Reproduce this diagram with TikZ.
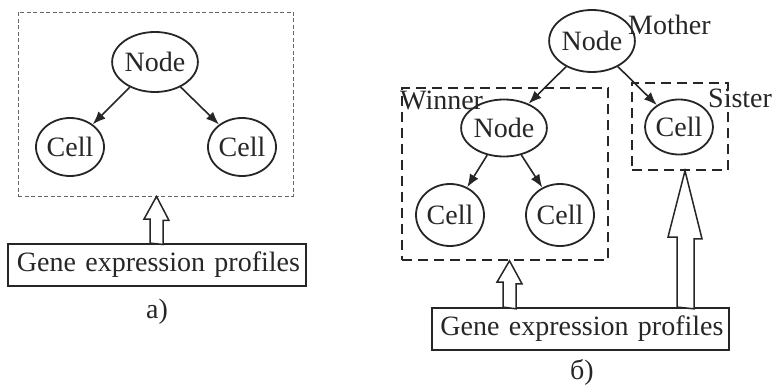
\documentclass[tikz,border=0pt]{standalone}
\usepackage{fontspec}
\setmainfont{Liberation Serif}
\usetikzlibrary{shapes.geometric,arrows.meta,calc}

\begin{document}
\begin{tikzpicture}[x=1pt,y=-1pt,
  every node/.style={font=\fontsize{28}{32}\selectfont,text=black!85},
  cell/.style={ellipse,draw=black!85,line width=1.8pt,inner sep=0pt,minimum width=68pt,minimum height=58pt},
  tag/.style={anchor=base west,inner sep=0pt},
  genebox/.style={draw=black!85,line width=1.8pt,minimum width=298pt,minimum height=42pt,inner sep=0pt,
    text width=286pt,align=right},
  frame/.style={draw=black!60,line width=0.9pt,dash pattern=on 4pt off 2.5pt},
  zone/.style={draw=black!85,line width=1.6pt,dash pattern=on 10pt off 6pt},
  link/.style={-{Latex[length=13pt,width=10pt]},line width=1.6pt,draw=black!85},
  hollow/.style={draw=black!85,line width=1.5pt,fill=white}]
\useasboundingbox (0,0) rectangle (774,385);

% a)
\node[frame,minimum width=275pt,minimum height=184pt] (fA) at (155.5,104) {};
\node[cell,minimum height=60pt] (nA) at (155,62) {Node};
\node[cell] (cA1) at (70,147) {Cell};
\node[cell] (cA2) at (242,147) {Cell};
\draw[link] (nA) -- (cA1);
\draw[link] (nA) -- (cA2);
\node[genebox] (gA) at (157,265) {Gene expression profiles};
\node (capA) at (157,312) {a)};
\coordinate (xA) at (156.5,0);
\draw[hollow] ($(gA.north -| xA)+(-6.5,0)$) -- ++(0,-24) -- ++(-6,0) -- (fA.south -| xA)
  -- ++(12.5,24) -- ++(-6,0) -- ++(0,24) -- cycle;

% b)
\node[cell,minimum width=69pt,minimum height=62pt] (nB) at (592,41) {Node};
\node[tag] (mother) at (628,35) {Mother};
\node[zone,minimum width=206pt,minimum height=172pt] (fW) at (505,174) {};
\node[tag] (winner) at (400,110) {Winner};
\node[cell,minimum width=65pt,minimum height=57pt] (nW) at (504,128) {Node};
\node[cell,minimum height=62pt] (cW1) at (450,215) {Cell};
\node[cell,minimum height=62pt] (cW2) at (560,215) {Cell};
\node[zone,minimum width=96pt,minimum height=87pt] (fS) at (680,126.5) {};
\node[cell,minimum height=55pt] (cS) at (679,127) {Cell};
\node[tag] (sister) at (708,108) {Sister};
\draw[link] (nB) -- (nW);
\draw[link] (nB) -- (cS);
\draw[link] (nW) -- (cW1);
\draw[link] (nW) -- (cW2);
\node[genebox,minimum width=297pt] (gB) at (580.5,329) {Gene expression profiles};
\node (capB) at (582,372) {б)};
\coordinate (xW) at (509.5,0);
\coordinate (xS) at (685,0);
\draw[hollow] ($(gB.north -| xW)+(-6.5,0)$) -- ++(0,-25) -- ++(-6,0) -- (fW.south -| xW)
  -- ++(12.5,23) -- ++(-6,0) -- ++(0,25) -- cycle;
\draw[hollow] ($(gB.north -| xS)+(-8,0)$) -- ++(0,-70) -- ++(-9,0) -- (fS.south -| xS)
  -- ++(17,68) -- ++(-8,0) -- ++(0,70) -- cycle;
\end{tikzpicture}
\end{document}
